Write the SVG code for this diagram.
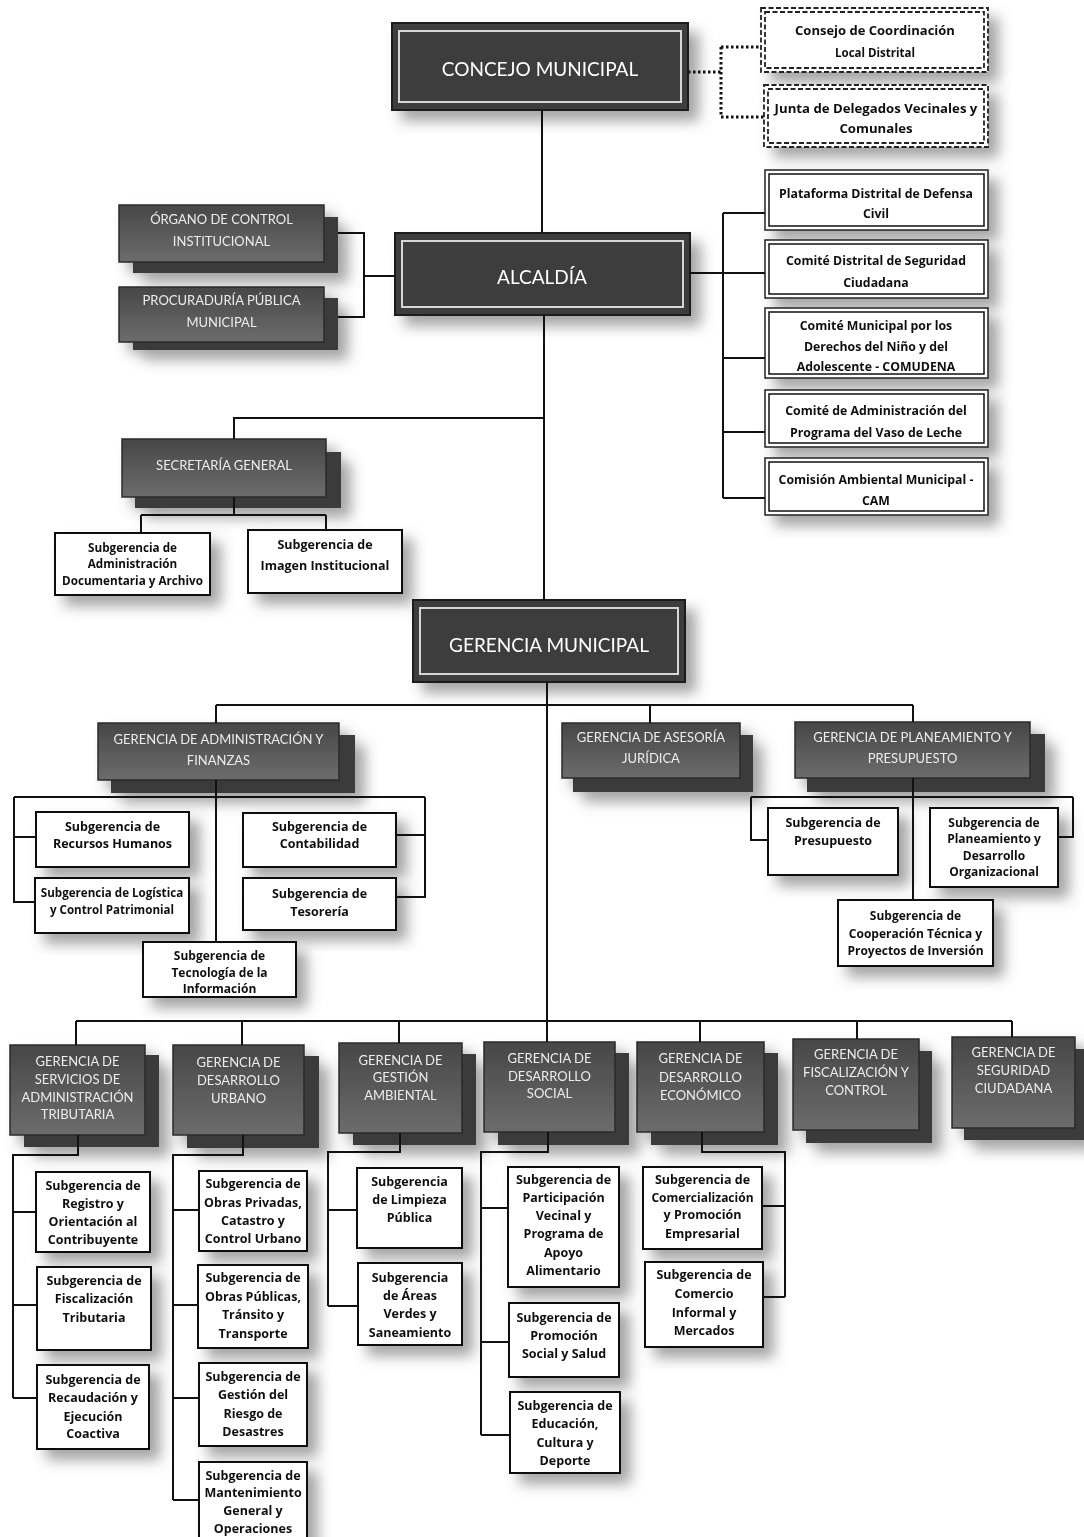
<svg xmlns="http://www.w3.org/2000/svg" width="1084" height="1537" viewBox="0 0 1084 1537">
<defs>
<linearGradient id="gd" x1="0" y1="0" x2="0" y2="1">
<stop offset="0" stop-color="#474747"/>
<stop offset="1" stop-color="#6c6c6c"/>
</linearGradient>
<filter id="sh" x="-20%" y="-20%" width="150%" height="160%">
<feDropShadow dx="10" dy="10" stdDeviation="7" flood-color="#5a5a5a" flood-opacity="0.55"/>
</filter>
<style>
text{font-family:Lato,"Liberation Sans",sans-serif;text-anchor:middle;dominant-baseline:central}
.big{filter:url(#sh)}
.big .f{fill:#3d3d3d;stroke:#1e1e1e;stroke-width:2}
.big .i{fill:none;stroke:#d6d6d6;stroke-width:2}
.big text{fill:#fff;font-size:19px}
.dk{filter:url(#sh)}
.dk .b{fill:#3a3a3a}
.dk .f{fill:url(#gd);stroke:#2a2a2a;stroke-width:1.5}
.dk text{fill:#ececec;font-size:13px}
.wb{filter:url(#sh)}
.wb rect{fill:#fff;stroke:#111;stroke-width:2}
.wb text{fill:#111;font-family:"Open Sans","Liberation Sans",sans-serif;font-size:12.5px;font-weight:bold}
.wb text.s11{font-size:11.6px}
.wb text.s112{font-size:11.7px}
.wb text.s12{font-size:12px}
.cm{filter:url(#sh)}
.cm .o{fill:#fff;stroke:#222;stroke-width:1.5}
.cm .i{fill:none;stroke:#111;stroke-width:1.5}
.cm text{fill:#111;font-family:"Open Sans","Liberation Sans",sans-serif;font-size:12.3px;font-weight:bold}
.ds{filter:url(#sh)}
.ds .o{fill:#fff;stroke:#222;stroke-width:1.8;stroke-dasharray:5 2.5}
.ds .i{fill:none;stroke:#222;stroke-width:1.8;stroke-dasharray:5 2.5}
.ds text{fill:#111;font-family:"Open Sans","Liberation Sans",sans-serif;font-weight:bold}
.cn path{fill:none;stroke:#111;stroke-width:2}
.cn path.dot{stroke-width:3;stroke-dasharray:2.5 2.5}
</style>
</defs>
<rect width="1084" height="1537" fill="#fff"/>

<!-- top -->
<g id="n-concejo" class="big">
<rect class="f" x="392" y="23" width="296" height="87"/>
<rect class="i" x="399" y="31" width="282" height="71"/>
<text x="540" y="68">CONCEJO MUNICIPAL</text>
</g>
<g id="n-consejo" class="ds">
<rect class="o" x="761" y="8" width="227" height="64"/>
<rect class="i" x="765" y="12" width="219" height="56"/>
<text x="875" y="30" font-size="13">Consejo de Coordinación</text>
<text x="875" y="52" font-size="11.5">Local Distrital</text>
</g>
<g id="n-junta" class="ds">
<rect class="o" x="764" y="85" width="224" height="62"/>
<rect class="i" x="768" y="89" width="216" height="54"/>
<text x="876" y="108" font-size="13.2">Junta de Delegados Vecinales y</text>
<text x="876" y="128" font-size="13.2">Comunales</text>
</g>

<g id="n-alcaldia" class="big">
<rect class="f" x="395" y="233" width="295" height="82"/>
<rect class="i" x="402" y="241" width="281" height="66"/>
<text x="542" y="276">ALCALDÍA</text>
</g>
<g id="n-organo" class="dk">
<rect class="b" x="133" y="217" width="205" height="56"/>
<rect class="f" x="119" y="205" width="205" height="57"/>
<text x="221.5" y="219">ÓRGANO DE CONTROL</text>
<text x="221.5" y="241">INSTITUCIONAL</text>
</g>
<g id="n-procuraduria" class="dk">
<rect class="b" x="133" y="298" width="205" height="52"/>
<rect class="f" x="119" y="287" width="205" height="55"/>
<text x="221.5" y="300">PROCURADURÍA PÚBLICA</text>
<text x="221.5" y="322">MUNICIPAL</text>
</g>

<g id="n-plataforma" class="cm">
<rect class="o" x="765" y="170" width="223" height="60"/>
<rect class="i" x="769" y="174" width="215" height="52"/>
<text x="876" y="193">Plataforma Distrital de Defensa</text>
<text x="876" y="213">Civil</text>
</g>
<g id="n-codisec" class="cm">
<rect class="o" x="765" y="240" width="223" height="58"/>
<rect class="i" x="769" y="244" width="215" height="50"/>
<text x="876" y="260">Comité Distrital de Seguridad</text>
<text x="876" y="282">Ciudadana</text>
</g>
<g id="n-comudena" class="cm">
<rect class="o" x="765" y="308" width="223" height="70"/>
<rect class="i" x="769" y="312" width="215" height="62"/>
<text x="876" y="325">Comité Municipal por los</text>
<text x="876" y="346">Derechos del Niño y del</text>
<text x="876" y="366">Adolescente - COMUDENA</text>
</g>
<g id="n-vaso" class="cm">
<rect class="o" x="765" y="390" width="223" height="57"/>
<rect class="i" x="769" y="394" width="215" height="49"/>
<text x="876" y="410">Comité de Administración del</text>
<text x="876" y="432">Programa del Vaso de Leche</text>
</g>
<g id="n-cam" class="cm">
<rect class="o" x="765" y="458" width="223" height="57"/>
<rect class="i" x="769" y="462" width="215" height="49"/>
<text x="876" y="479">Comisión Ambiental Municipal -</text>
<text x="876" y="500">CAM</text>
</g>

<!-- secretaria -->
<g id="n-secretaria" class="dk">
<rect class="b" x="135" y="452" width="206" height="56"/>
<rect class="f" x="122" y="439" width="204" height="58"/>
<text x="224" y="465">SECRETARÍA GENERAL</text>
</g>
<g id="n-sg-adm" class="wb">
<rect x="55" y="533" width="155" height="62"/>
<text class="s112" x="132.5" y="547">Subgerencia de</text>
<text class="s112" x="132.5" y="563">Administración</text>
<text class="s112" x="132.5" y="580">Documentaria y Archivo</text>
</g>
<g id="n-sg-img" class="wb">
<rect x="248" y="530" width="154" height="63"/>
<text x="325" y="544">Subgerencia de</text>
<text x="325" y="565">Imagen Institucional</text>
</g>

<g id="n-gm" class="big">
<rect class="f" x="413" y="600" width="272" height="82"/>
<rect class="i" x="420" y="608" width="258" height="66"/>
<text x="549" y="644">GERENCIA MUNICIPAL</text>
</g>

<!-- second level -->
<g id="n-gaf" class="dk">
<rect class="b" x="111" y="735" width="244" height="58"/>
<rect class="f" x="98" y="723" width="241" height="57"/>
<text x="218.5" y="739">GERENCIA DE ADMINISTRACIÓN Y</text>
<text x="218.5" y="760">FINANZAS</text>
</g>
<g id="n-gaj" class="dk">
<rect class="b" x="573" y="735" width="180" height="57"/>
<rect class="f" x="562" y="723" width="178" height="55"/>
<text x="651" y="737">GERENCIA DE ASESORÍA</text>
<text x="651" y="758">JURÍDICA</text>
</g>
<g id="n-gpp" class="dk">
<rect class="b" x="807" y="734" width="238" height="58"/>
<rect class="f" x="795" y="722" width="235" height="56"/>
<text x="912.5" y="737">GERENCIA DE PLANEAMIENTO Y</text>
<text x="912.5" y="758">PRESUPUESTO</text>
</g>

<g id="n-rrhh" class="wb">
<rect x="36" y="812" width="153" height="55"/>
<text x="112.5" y="826">Subgerencia de</text>
<text x="112.5" y="843">Recursos Humanos</text>
</g>
<g id="n-log" class="wb">
<rect x="35" y="878" width="154" height="55"/>
<text class="s11" x="112" y="892">Subgerencia de Logística</text>
<text class="s11" x="112" y="909">y Control Patrimonial</text>
</g>
<g id="n-cont" class="wb">
<rect x="243" y="813" width="153" height="54"/>
<text x="319.5" y="826">Subgerencia de</text>
<text x="319.5" y="843">Contabilidad</text>
</g>
<g id="n-teso" class="wb">
<rect x="243" y="878" width="153" height="52"/>
<text x="319.5" y="893">Subgerencia de</text>
<text x="319.5" y="911">Tesorería</text>
</g>
<g id="n-tec" class="wb">
<rect x="143" y="942" width="153" height="55"/>
<text class="s12" x="219.5" y="955">Subgerencia de</text>
<text class="s12" x="219.5" y="972">Tecnología de la</text>
<text class="s12" x="219.5" y="988">Información</text>
</g>
<g id="n-presu" class="wb">
<rect x="768" y="808" width="130" height="67"/>
<text x="833" y="822">Subgerencia de</text>
<text x="833" y="840">Presupuesto</text>
</g>
<g id="n-pdo" class="wb">
<rect x="930" y="808" width="128" height="79"/>
<text class="s12" x="994" y="822">Subgerencia de</text>
<text class="s12" x="994" y="838">Planeamiento y</text>
<text class="s12" x="994" y="855">Desarrollo</text>
<text class="s12" x="994" y="871">Organizacional</text>
</g>
<g id="n-coop" class="wb">
<rect x="838" y="900" width="155" height="66"/>
<text class="s12" x="915.5" y="915">Subgerencia de</text>
<text class="s12" x="915.5" y="933">Cooperación Técnica y</text>
<text class="s12" x="915.5" y="950">Proyectos de Inversión</text>
</g>

<!-- third level gerencias -->
<g id="n-gsat" class="dk">
<rect class="b" x="24" y="1055" width="135" height="92"/>
<rect class="f" x="10" y="1045" width="135" height="90"/>
<text x="77.5" y="1061">GERENCIA DE</text>
<text x="77.5" y="1079">SERVICIOS DE</text>
<text x="77.5" y="1097">ADMINISTRACIÓN</text>
<text x="77.5" y="1114">TRIBUTARIA</text>
</g>
<g id="n-gdu" class="dk">
<rect class="b" x="187" y="1056" width="132" height="92"/>
<rect class="f" x="173" y="1045" width="131" height="90"/>
<text x="238.5" y="1062">GERENCIA DE</text>
<text x="238.5" y="1080">DESARROLLO</text>
<text x="238.5" y="1098">URBANO</text>
</g>
<g id="n-gga" class="dk">
<rect class="b" x="353" y="1054" width="123" height="91"/>
<rect class="f" x="339" y="1043" width="123" height="90"/>
<text x="400.5" y="1060">GERENCIA DE</text>
<text x="400.5" y="1077">GESTIÓN</text>
<text x="400.5" y="1095">AMBIENTAL</text>
</g>
<g id="n-gds" class="dk">
<rect class="b" x="498" y="1053" width="131" height="92"/>
<rect class="f" x="484" y="1042" width="131" height="90"/>
<text x="549.5" y="1058">GERENCIA DE</text>
<text x="549.5" y="1076">DESARROLLO</text>
<text x="549.5" y="1093">SOCIAL</text>
</g>
<g id="n-gde" class="dk">
<rect class="b" x="651" y="1053" width="127" height="92"/>
<rect class="f" x="637" y="1042" width="127" height="90"/>
<text x="700.5" y="1058">GERENCIA DE</text>
<text x="700.5" y="1077">DESARROLLO</text>
<text x="700.5" y="1095">ECONÓMICO</text>
</g>
<g id="n-gfc" class="dk">
<rect class="b" x="806" y="1051" width="126" height="92"/>
<rect class="f" x="793" y="1039" width="126" height="91"/>
<text x="856" y="1054">GERENCIA DE</text>
<text x="856" y="1072">FISCALIZACIÓN Y</text>
<text x="856" y="1090">CONTROL</text>
</g>
<g id="n-gsc" class="dk">
<rect class="b" x="964" y="1049" width="120" height="91"/>
<rect class="f" x="952" y="1037" width="123" height="91"/>
<text x="1013.5" y="1052">GERENCIA DE</text>
<text x="1013.5" y="1070">SEGURIDAD</text>
<text x="1013.5" y="1088">CIUDADANA</text>
</g>

<!-- GSAT subs -->
<g id="n-rot" class="wb">
<rect x="36" y="1172" width="114" height="80"/>
<text x="93" y="1185">Subgerencia de</text>
<text x="93" y="1203">Registro y</text>
<text x="93" y="1221">Orientación al</text>
<text x="93" y="1239">Contribuyente</text>
</g>
<g id="n-ft" class="wb">
<rect x="37" y="1267" width="114" height="83"/>
<text x="94" y="1280">Subgerencia de</text>
<text x="94" y="1298">Fiscalización</text>
<text x="94" y="1317">Tributaria</text>
</g>
<g id="n-rec" class="wb">
<rect x="37" y="1365" width="112" height="84"/>
<text x="93" y="1379">Subgerencia de</text>
<text x="93" y="1397">Recaudación y</text>
<text x="93" y="1416">Ejecución</text>
<text x="93" y="1433">Coactiva</text>
</g>
<!-- GDU subs -->
<g id="n-opr" class="wb">
<rect x="199" y="1171" width="108" height="80"/>
<text x="253" y="1183">Subgerencia de</text>
<text x="253" y="1202">Obras Privadas,</text>
<text x="253" y="1220">Catastro y</text>
<text x="253" y="1238">Control Urbano</text>
</g>
<g id="n-opu" class="wb">
<rect x="198" y="1265" width="110" height="83"/>
<text x="253" y="1277">Subgerencia de</text>
<text x="253" y="1296">Obras Públicas,</text>
<text x="253" y="1314">Tránsito y</text>
<text x="253" y="1333">Transporte</text>
</g>
<g id="n-grd" class="wb">
<rect x="199" y="1363" width="108" height="83"/>
<text x="253" y="1376">Subgerencia de</text>
<text x="253" y="1394">Gestión del</text>
<text x="253" y="1413">Riesgo de</text>
<text x="253" y="1431">Desastres</text>
</g>
<g id="n-mgo" class="wb">
<rect x="199" y="1462" width="108" height="80"/>
<text x="253" y="1475">Subgerencia de</text>
<text x="253" y="1492">Mantenimiento</text>
<text x="253" y="1510">General y</text>
<text x="253" y="1528">Operaciones</text>
</g>
<!-- GGA subs -->
<g id="n-lp" class="wb">
<rect x="357" y="1168" width="105" height="80"/>
<text x="409.5" y="1181">Subgerencia</text>
<text x="409.5" y="1199">de Limpieza</text>
<text x="409.5" y="1217">Pública</text>
</g>
<g id="n-av" class="wb">
<rect x="358" y="1263" width="104" height="82"/>
<text x="410" y="1277">Subgerencia</text>
<text x="410" y="1295">de Áreas</text>
<text x="410" y="1313">Verdes y</text>
<text x="410" y="1332">Saneamiento</text>
</g>
<!-- GDS subs -->
<g id="n-pv" class="wb">
<rect x="508" y="1167" width="111" height="120"/>
<text x="563.5" y="1179">Subgerencia de</text>
<text x="563.5" y="1197">Participación</text>
<text x="563.5" y="1215">Vecinal y</text>
<text x="563.5" y="1233">Programa de</text>
<text x="563.5" y="1252">Apoyo</text>
<text x="563.5" y="1270">Alimentario</text>
</g>
<g id="n-ps" class="wb">
<rect x="509" y="1303" width="110" height="74"/>
<text x="564" y="1317">Subgerencia de</text>
<text x="564" y="1335">Promoción</text>
<text x="564" y="1353">Social y Salud</text>
</g>
<g id="n-ecd" class="wb">
<rect x="510" y="1392" width="110" height="81"/>
<text x="565" y="1405">Subgerencia de</text>
<text x="565" y="1423">Educación,</text>
<text x="565" y="1442">Cultura y</text>
<text x="565" y="1460">Deporte</text>
</g>
<!-- GDE subs -->
<g id="n-cpe" class="wb">
<rect x="643" y="1167" width="119" height="82"/>
<text x="702.5" y="1179">Subgerencia de</text>
<text class="s12" x="702.5" y="1197">Comercialización</text>
<text x="702.5" y="1214">y Promoción</text>
<text x="702.5" y="1233">Empresarial</text>
</g>
<g id="n-cim" class="wb">
<rect x="645" y="1262" width="118" height="85"/>
<text x="704" y="1274">Subgerencia de</text>
<text x="704" y="1293">Comercio</text>
<text x="704" y="1312">Informal y</text>
<text x="704" y="1330">Mercados</text>
</g>

<!-- connectors -->
<g id="connectors" class="cn">
<path class="dot" d="M688 72H721M721 47V117M721 47H761M721 117H764"/>
<path d="M542 110V233"/>
<path d="M338 233H364V317H338M364 276H395"/>
<path d="M690 273H765M723 213V498M723 213H765M723 358H765M723 432H765M723 498H765"/>
<path d="M544 315V600"/>
<path d="M545 418H234V439"/>
<path d="M234 497V515M141 515H326M141 515V533M326 515V530"/>
<path d="M547 682V1021"/>
<path d="M216 705H913M216 705V723M650 705V723M913 705V722"/>
<path d="M216 780V942M14 797H425M14 797V902H35M14 837H36M425 797V897H396M425 835H396"/>
<path d="M913 778V900M751 797H1073M751 797V840H768M1073 797V837H1058"/>
<path d="M76 1021H1012M76 1021V1045M242 1021V1045M399 1021V1043M547 1021V1042M700 1021V1042M857 1021V1039M1012 1021V1037"/>
<path d="M78 1135V1155H13V1398M13 1212H36M13 1305H37M13 1398H37"/>
<path d="M243 1135V1155H173V1500M173 1210H199M173 1305H198M173 1398H199M173 1500H199"/>
<path d="M400 1133V1152H328V1306M328 1210H357M328 1306H358"/>
<path d="M548 1132V1152H481V1435M481 1208H508M481 1342H509M481 1435H510"/>
<path d="M702 1132V1152H785V1297M785 1206H762M785 1297H763"/>
</g>
</svg>
